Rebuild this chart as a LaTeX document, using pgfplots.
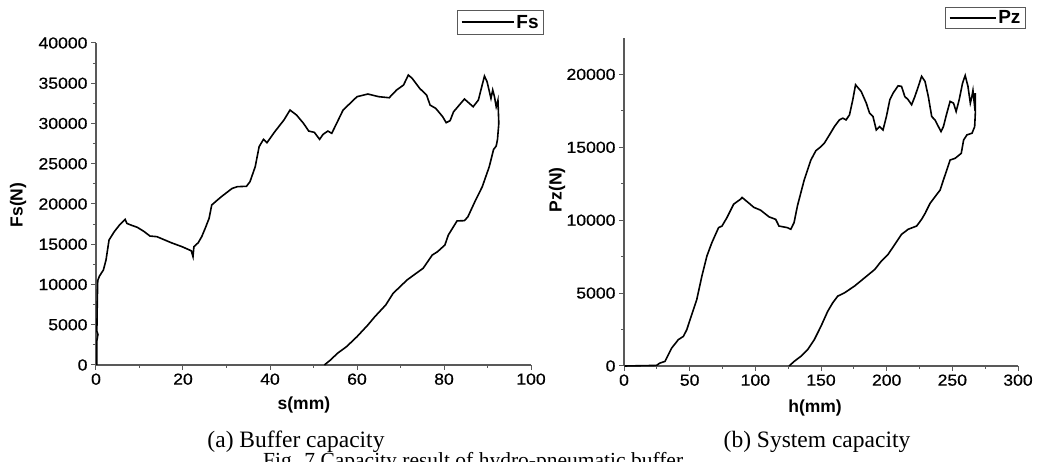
\documentclass[border=0pt]{standalone}
\usepackage{pgfplots}
\pgfplotsset{compat=1.18}
\usepackage{fontspec}
\setmainfont{Liberation Serif}
\newfontfamily\arial{Liberation Sans}
\newfontfamily\arialw[FakeStretch=1.1,FakeBold=0.6]{Liberation Sans}

\pgfplotsset{myaxis/.style={
  scale only axis, axis lines=left,
  axis line style={-, draw=black!65, line width=1.1pt},
  tick align=outside, major tick length=5pt, minor tick length=3pt,
  every tick/.style={draw=black!65, line width=1pt},
  minor x tick num=1, minor y tick num=1,
  ticklabel style={font=\arialw\fontsize{16}{16}\selectfont, text=black},
  /pgf/number format/assume math mode=true,
  /pgf/number format/1000 sep={},
  scaled ticks=false,
  label style={font=\arial\bfseries\fontsize{17.5}{18}\selectfont},
  legend style={draw=black!65, line width=0.8pt, font=\arial\bfseries\fontsize{19}{19}\selectfont,
    inner xsep=3pt, inner ysep=2.5pt},
  clip=false,
}}

\begin{document}
\begin{tikzpicture}
\useasboundingbox (0pt,0pt) rectangle (1045pt,462pt);

\begin{axis}[myaxis, at={(96pt,97pt)}, anchor=south west, width=435pt, height=322pt,
  xmin=0, xmax=100, ymin=0, ymax=40000,
  xtick={0,20,...,100}, ytick={0,5000,...,40000},
  xlabel={s(mm)}, ylabel={Fs(N)},
  xlabel style={at={(axis description cs:0.478,-0.124)}, anchor=center},
  ylabel style={at={(axis description cs:-0.179,0.497)}, anchor=center},
  legend image code/.code={\draw[black, line width=1.8pt] (0pt,0.6pt) -- (52pt,0.6pt);},
  legend style={at={(1.03,1.102)}, anchor=north east}]
\addplot[black, line width=1.6pt] coordinates {
(0.2,0) (0.2,3000) (0.45,3800) (0.2,4200) (0.3,8000) (0.4,10500) (0.8,11050) (1.7,11800)
(2.3,13040) (3.0,15530) (4.2,16560) (5.4,17390) (6.7,18090) (7.1,17590) (8.0,17390)
(9.5,17100) (11,16600) (12.4,16020) (14.0,15940) (17.3,15190) (19.8,14690) (21.9,14190)
(22.3,13460) (22.5,14690) (23.5,15190) (24.3,15940) (25.1,16970) (26.0,18220) (26.6,19870)
(27.5,20300) (28.8,20900) (31.3,21940) (32.5,22150) (34.6,22200) (35.4,22770) (36.6,24630)
(37.5,27120) (38.5,28030) (39.3,27610) (41.1,28980) (43.2,30430) (44.6,31670) (46.1,31050)
(47.7,30020) (48.9,29060) (50.2,28900) (51.4,28030) (52.2,28650) (53.3,29060) (54.2,28780)
(55.5,30220) (56.8,31670) (58.0,32290) (60.0,33330) (62.5,33660) (65.0,33330) (67.4,33200)
(69.1,34160) (70.7,34780) (71.8,36020) (72.7,35600) (74.4,34370) (76.0,33530) (76.8,32290)
(78.1,31880) (79.7,30840) (80.5,30100) (81.4,30350) (82.2,31460) (84.7,33040) (86.7,32080)
(87.9,32910) (89.3,35890) (89.9,35190) (90.8,33120) (91.2,34160) (91.6,33330) (92.0,32080)
(92.4,32910) (92.6,30020) (92.3,28030) (92.0,27200) (91.4,26780) (90.4,24630) (88.8,22150)
(87.1,20290) (85.5,18420) (84.7,17930) (83.0,17900) (81.0,16150) (80.2,14900) (78.5,14070)
(77.3,13660) (75.2,12010) (73.6,11390) (71.5,10560) (69.9,9730) (68.3,8900) (66.6,7450)
(64.1,6000) (62.5,4970) (60.0,3520) (57.6,2280) (55.5,1450) (53.9,620) (52.5,0)
};
\addlegendentry{Fs}
\end{axis}

\begin{axis}[myaxis, at={(624pt,96pt)}, anchor=south west, width=394pt, height=328pt,
  xmin=0, xmax=300, ymin=0, ymax=22500,
  xtick={0,50,...,300}, ytick={0,5000,...,20000},
  xlabel={h(mm)}, ylabel={Pz(N)},
  xlabel style={at={(axis description cs:0.485,-0.128)}, anchor=center},
  ylabel style={at={(axis description cs:-0.170,0.537)}, anchor=center},
  legend image code/.code={\draw[black, line width=1.5pt] (0pt,0pt) -- (46pt,0pt);},
  legend style={at={(1.02,1.095)}, anchor=north east, inner ysep=1.5pt}]
\addplot[black, line width=1.6pt] coordinates {
(0.5,0) (24.8,40) (27.3,200) (31.2,315) (36.3,1230) (41.4,1810) (45.2,2030) (47.8,2490)
(51.6,3530) (55.4,4560) (59.3,6165) (63.1,7540) (66.9,8460) (72,9490) (74.6,9600)
(78.4,10180) (83.5,11100) (88.7,11440) (89.9,11560) (93.8,11270) (98.9,10880) (104,10690)
(110.4,10230) (115.5,10060) (118,9600) (124.4,9490) (127,9380) (129.5,9840) (132.1,11000)
(137.2,12760) (142.3,14130) (146.1,14770) (150,15050) (152.5,15280) (156.4,15850)
(160.2,16420) (164,16880) (166.6,17000) (169.1,16880) (171.7,17230) (174.2,18260)
(176.3,19290) (180.6,18830) (184.5,18030) (187,17340) (189.6,17110) (192.1,16190)
(194.7,16420) (197.2,16190) (199.8,17110) (202.4,18260) (204.9,18720) (208.7,19220)
(211.3,19180) (213.8,18490) (216.4,18260) (219,17920) (221.5,18490) (224.1,19180)
(226.6,19870) (229.2,19520) (231.7,18490) (234.3,17110) (236.8,16880) (239.4,16420)
(241.4,16080) (243.2,16420) (245.8,17340) (248.3,18150) (250.9,18030) (252.9,17460)
(255.2,18260) (257.8,19410) (259.8,19930) (261.9,19180) (263.7,18030) (264.9,18490)
(265.7,18900) (266.7,18030) (267.5,18720) (267.5,17340) (267,16420) (265,15970)
(261.1,15850) (258.6,15510) (256.8,14590) (252.2,14250) (248.3,14130) (245.8,13450)
(243.2,12760) (240.7,12070) (236.8,11610) (233,11150) (229.2,10460) (226.6,10060)
(222.8,9600) (216.4,9380) (211.3,9030) (206.2,8340) (201.1,7660) (196,7200) (190.9,6620)
(183.2,6050) (175.5,5480) (167.9,5020) (162.7,4790) (158.9,4330) (155.1,3750) (150,2730)
(144.9,1810) (139.8,1120) (134.6,660) (129.5,310) (125.7,0)
};
\addlegendentry{Pz}
\end{axis}

\node[anchor=base, font=\fontsize{23.5}{24}\selectfont] at (296pt,14pt) {(a) Buffer capacity};
\node[anchor=base, font=\fontsize{23.5}{24}\selectfont] at (817pt,14pt) {(b) System capacity};
\node[anchor=base west, font=\fontsize{21.5}{22}\selectfont, inner sep=0pt] at (263pt,-6pt) {Fig. 7 Capacity result of hydro-pneumatic buffer};
\end{tikzpicture}
\end{document}
